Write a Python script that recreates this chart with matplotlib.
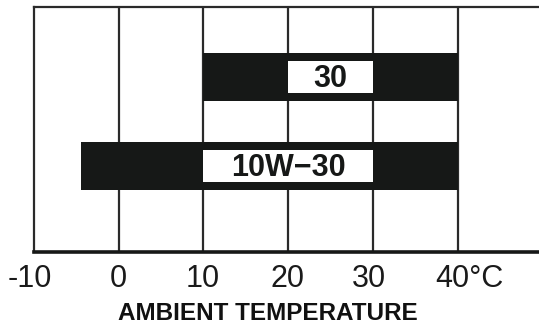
import matplotlib
matplotlib.use("Agg")
import matplotlib.pyplot as plt
import numpy as np

# Data
grades = ["30", "10W\u221230"]          # top to bottom
temp_min = [10, -4.5]
temp_max = [40, 40]
label_box_min = [20, 10]
label_box_max = [30, 30]
tick_values = [-10, 0, 10, 20, 30, 40]
tick_labels = ["-10", "0", "10", "20", "30", "40\u00b0C"]
xlabel = "AMBIENT TEMPERATURE"

plt.rcParams['font.family'] = ['Liberation Sans', 'DejaVu Sans']

fig = plt.figure(figsize=(5.39, 3.25), dpi=100)
ax = fig.add_axes([34 / 539, 73 / 325, 1 - 34 / 539, 245 / 325])

ink = "#161817"
line = "#2a2a2a"
ypos = np.arange(len(grades))

# vertical grid lines
for t in tick_values[1:]:
    ax.axvline(t, color=line, lw=1.6, zorder=1)

widths = np.array(temp_max) - np.array(temp_min)
ax.barh(ypos, widths, left=temp_min, height=0.54, color=ink, zorder=2)
bw = np.array(label_box_max) - np.array(label_box_min)
ax.barh(ypos, bw, left=label_box_min, height=0.36, color="white", zorder=3)

for y, g, a, b in zip(ypos, grades, label_box_min, label_box_max):
    ax.annotate(g, xy=((a + b) / 2, y), xytext=(0, -7.5), textcoords="offset points",
                ha="center", va="baseline", fontsize=22, fontweight="bold",
                color=ink, zorder=4)

ax.set_xlim(-10, -10 + (539 - 33.85) / 8.475)
ax.set_ylim(len(grades) - 1 + 0.966, -0.787)

ax.set_xticks(tick_values)
ax.set_xticklabels([])
ax.set_yticks([])
ax.tick_params(length=0)

offsets_px = [-4, -0.5, -1, -1, -4, -22.5]
for t, lab, dx in zip(tick_values, tick_labels, offsets_px):
    ha = "left" if lab.endswith("C") else "center"
    ax.annotate(lab, xy=(t, 0), xycoords=ax.get_xaxis_transform(),
                xytext=(dx * 0.72, -35 * 0.72), textcoords="offset points",
                ha=ha, va="baseline", fontsize=22, color="#1a1a1a")

for s in ["top", "left"]:
    ax.spines[s].set_color(line)
    ax.spines[s].set_linewidth(1.6)
ax.spines["bottom"].set_color(ink)
ax.spines["bottom"].set_linewidth(2.6)
ax.spines["right"].set_visible(False)

fig.text(268 / 539, 5.5 / 325, xlabel, ha="center", va="baseline",
         fontsize=17.5, fontweight="bold", color="#111111")

fig.savefig("out.png", dpi=100)
